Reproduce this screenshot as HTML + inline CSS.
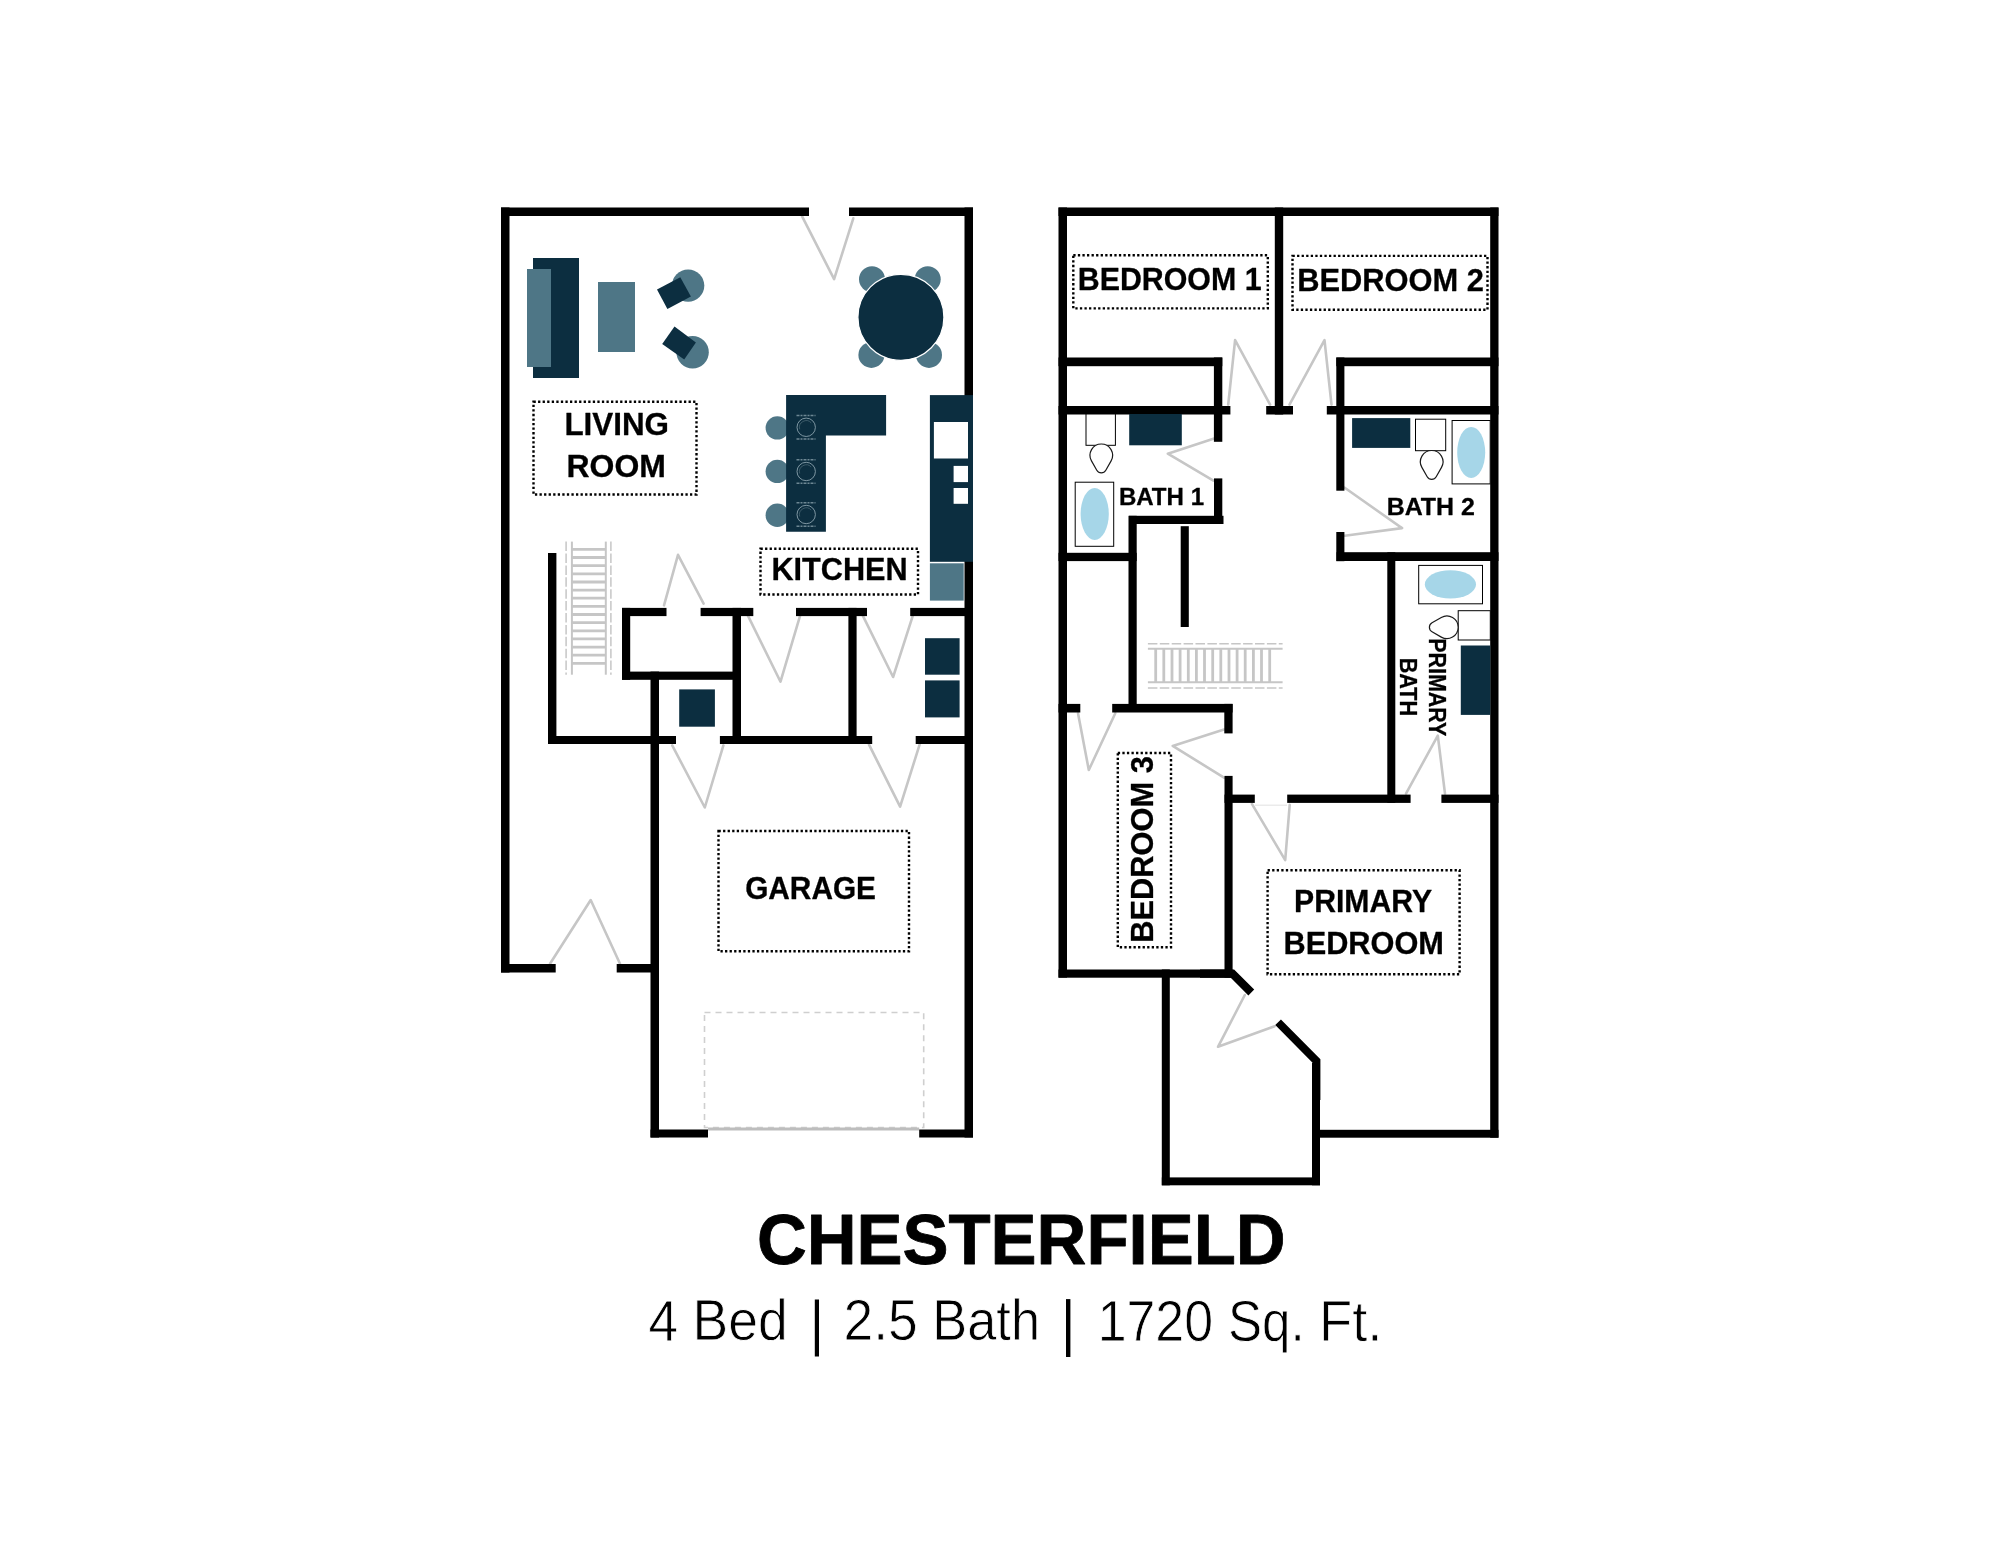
<!DOCTYPE html>
<html><head><meta charset="utf-8"><style>
html,body{margin:0;padding:0;background:#fff;width:2000px;height:1545px;overflow:hidden}
svg{display:block;will-change:transform}
text{fill:#000}
</style></head><body>
<svg width="2000" height="1545" viewBox="0 0 2000 1545">
<polyline points="802.1,216.4 834.1,279.2 853.3,218.3" fill="none" stroke="#c6c6c6" stroke-width="2.6" stroke-linejoin="round" stroke-linecap="round"/>
<polyline points="664.0,605.3 678.0,554.8 703.6,603.7" fill="none" stroke="#c6c6c6" stroke-width="2.6" stroke-linejoin="round" stroke-linecap="round"/>
<polyline points="747.9,615.6 780.5,681.7 799.9,616.4" fill="none" stroke="#c6c6c6" stroke-width="2.6" stroke-linejoin="round" stroke-linecap="round"/>
<polyline points="862.8,615.6 893.1,677.0 912.6,616.4" fill="none" stroke="#c6c6c6" stroke-width="2.6" stroke-linejoin="round" stroke-linecap="round"/>
<polyline points="672.2,745.4 704.8,807.5 723.4,745.4" fill="none" stroke="#c6c6c6" stroke-width="2.6" stroke-linejoin="round" stroke-linecap="round"/>
<polyline points="869.0,744.6 900.1,806.7 919.6,744.6" fill="none" stroke="#c6c6c6" stroke-width="2.6" stroke-linejoin="round" stroke-linecap="round"/>
<polyline points="550.0,963.7 590.7,900.0 620.0,963.7" fill="none" stroke="#c6c6c6" stroke-width="2.6" stroke-linejoin="round" stroke-linecap="round"/>
<line x1="566.1" y1="541.6" x2="566.1" y2="674.7" stroke="#c6c6c6" stroke-width="1.5" stroke-dasharray="9.5 2.4"/>
<line x1="610.9" y1="541.6" x2="610.9" y2="674.7" stroke="#c6c6c6" stroke-width="1.5" stroke-dasharray="9.5 2.4"/>
<line x1="571.9" y1="541.6" x2="571.9" y2="674.7" stroke="#c6c6c6" stroke-width="2"/>
<line x1="605.8" y1="541.6" x2="605.8" y2="674.7" stroke="#c6c6c6" stroke-width="2"/>
<line x1="571.9" y1="549.4" x2="605.8" y2="549.4" stroke="#c6c6c6" stroke-width="2.8"/>
<line x1="571.9" y1="557.5" x2="605.8" y2="557.5" stroke="#c6c6c6" stroke-width="2.8"/>
<line x1="571.9" y1="565.7" x2="605.8" y2="565.7" stroke="#c6c6c6" stroke-width="2.8"/>
<line x1="571.9" y1="573.8" x2="605.8" y2="573.8" stroke="#c6c6c6" stroke-width="2.8"/>
<line x1="571.9" y1="582.0" x2="605.8" y2="582.0" stroke="#c6c6c6" stroke-width="2.8"/>
<line x1="571.9" y1="590.1" x2="605.8" y2="590.1" stroke="#c6c6c6" stroke-width="2.8"/>
<line x1="571.9" y1="598.2" x2="605.8" y2="598.2" stroke="#c6c6c6" stroke-width="2.8"/>
<line x1="571.9" y1="606.4" x2="605.8" y2="606.4" stroke="#c6c6c6" stroke-width="2.8"/>
<line x1="571.9" y1="614.5" x2="605.8" y2="614.5" stroke="#c6c6c6" stroke-width="2.8"/>
<line x1="571.9" y1="622.7" x2="605.8" y2="622.7" stroke="#c6c6c6" stroke-width="2.8"/>
<line x1="571.9" y1="630.8" x2="605.8" y2="630.8" stroke="#c6c6c6" stroke-width="2.8"/>
<line x1="571.9" y1="638.9" x2="605.8" y2="638.9" stroke="#c6c6c6" stroke-width="2.8"/>
<line x1="571.9" y1="647.1" x2="605.8" y2="647.1" stroke="#c6c6c6" stroke-width="2.8"/>
<line x1="571.9" y1="655.2" x2="605.8" y2="655.2" stroke="#c6c6c6" stroke-width="2.8"/>
<line x1="571.9" y1="663.4" x2="605.8" y2="663.4" stroke="#c6c6c6" stroke-width="2.8"/>
<rect x="704.5" y="1012.5" width="219.2" height="115" fill="none" stroke="#cfcfcf" stroke-width="1.6" stroke-dasharray="6 5"/>
<rect x="708.0" y="1127.5" width="211.2" height="3.0" fill="#bdbdbd" />
<rect x="501.0" y="207.5" width="308.0" height="8.5" fill="#000" />
<rect x="849.0" y="207.5" width="124.0" height="8.5" fill="#000" />
<rect x="501.0" y="207.5" width="8.5" height="765.0" fill="#000" />
<rect x="964.5" y="207.5" width="8.5" height="930.0" fill="#000" />
<rect x="501.0" y="964.0" width="54.7" height="8.5" fill="#000" />
<rect x="616.7" y="964.0" width="42.3" height="8.5" fill="#000" />
<rect x="650.5" y="671.6" width="8.5" height="465.9" fill="#000" />
<rect x="650.5" y="1129.5" width="57.5" height="8.0" fill="#000" />
<rect x="919.2" y="1129.5" width="53.8" height="8.0" fill="#000" />
<rect x="548.0" y="553.0" width="8.4" height="191.0" fill="#000" />
<rect x="548.0" y="736.0" width="128.0" height="8.0" fill="#000" />
<rect x="719.9" y="736.0" width="152.3" height="8.0" fill="#000" />
<rect x="915.7" y="736.0" width="57.3" height="8.0" fill="#000" />
<rect x="622.0" y="607.9" width="44.5" height="8.2" fill="#000" />
<rect x="700.6" y="607.9" width="52.7" height="8.2" fill="#000" />
<rect x="796.0" y="607.9" width="71.0" height="8.2" fill="#000" />
<rect x="910.2" y="607.9" width="62.8" height="8.2" fill="#000" />
<rect x="622.0" y="607.9" width="8.2" height="71.9" fill="#000" />
<rect x="622.0" y="671.6" width="119.0" height="8.2" fill="#000" />
<rect x="732.5" y="607.9" width="8.5" height="136.1" fill="#000" />
<rect x="848.4" y="607.9" width="8.2" height="136.1" fill="#000" />
<rect x="533.0" y="258.0" width="46.0" height="120.0" fill="#0c2e40" />
<rect x="527.0" y="269.0" width="24.0" height="98.0" fill="#4e7686" />
<rect x="598.0" y="282.0" width="37.0" height="70.0" fill="#4e7686" />
<circle cx="688.1" cy="285.6" r="16.2" fill="#4e7686" />
<polygon points="657,289.5 680.3,277.2 690.9,296.6 667.4,309" fill="#0c2e40"/>
<circle cx="692.6" cy="352.3" r="16.2" fill="#4e7686" />
<polygon points="674.5,326.4 695.9,342.6 684.2,359.4 662.2,343.9" fill="#0c2e40"/>
<circle cx="872.0" cy="279.2" r="13.0" fill="#4e7686" />
<circle cx="927.7" cy="279.2" r="13.0" fill="#4e7686" />
<circle cx="871.4" cy="354.9" r="13.0" fill="#4e7686" />
<circle cx="929.0" cy="354.9" r="13.0" fill="#4e7686" />
<circle cx="900.9" cy="317.3" r="43.0" fill="#0c2e40" stroke="#fff" stroke-width="1.2"/>
<circle cx="777.3" cy="427.9" r="11.7" fill="#4e7686" />
<circle cx="777.3" cy="471.4" r="11.7" fill="#4e7686" />
<circle cx="777.3" cy="515.2" r="11.7" fill="#4e7686" />
<path d="M786.1,395.1 H886.1 V435.5 H825.9 V531.8 H786.1 Z" fill="#0c2e40"/>
<circle cx="806.2" cy="427.3" r="9.2" fill="none" stroke="#8aa2ad" stroke-width="0.9"/>
<path d="M799.7,429.3 A6.8,6.8 0 0 1 811.2,422.8" fill="none" stroke="#4f6c79" stroke-width="0.7"/>
<line x1="796.5" y1="415.5" x2="815.5" y2="415.5" stroke="#6d8793" stroke-width="1.5" stroke-dasharray="3 1 2 1"/>
<line x1="796.5" y1="439.1" x2="815.5" y2="439.1" stroke="#6d8793" stroke-width="1.5" stroke-dasharray="3 1 2 1"/>
<circle cx="806.2" cy="471.5" r="9.2" fill="none" stroke="#8aa2ad" stroke-width="0.9"/>
<path d="M799.7,473.5 A6.8,6.8 0 0 1 811.2,467.0" fill="none" stroke="#4f6c79" stroke-width="0.7"/>
<line x1="796.5" y1="459.7" x2="815.5" y2="459.7" stroke="#6d8793" stroke-width="1.5" stroke-dasharray="3 1 2 1"/>
<line x1="796.5" y1="483.3" x2="815.5" y2="483.3" stroke="#6d8793" stroke-width="1.5" stroke-dasharray="3 1 2 1"/>
<circle cx="806.2" cy="514.5" r="9.2" fill="none" stroke="#8aa2ad" stroke-width="0.9"/>
<path d="M799.7,516.5 A6.8,6.8 0 0 1 811.2,510.0" fill="none" stroke="#4f6c79" stroke-width="0.7"/>
<line x1="796.5" y1="502.7" x2="815.5" y2="502.7" stroke="#6d8793" stroke-width="1.5" stroke-dasharray="3 1 2 1"/>
<line x1="796.5" y1="526.3" x2="815.5" y2="526.3" stroke="#6d8793" stroke-width="1.5" stroke-dasharray="3 1 2 1"/>
<rect x="929.9" y="395.1" width="43.1" height="166.7" fill="#0c2e40" />
<rect x="933.9" y="422.0" width="34.1" height="36.5" fill="#fff" />
<rect x="953.6" y="465.9" width="14.4" height="16.2" fill="#fff" />
<rect x="953.6" y="488.0" width="14.4" height="15.8" fill="#fff" />
<rect x="929.9" y="563.3" width="33.8" height="37.3" fill="#4e7686" />
<rect x="679.2" y="689.4" width="35.7" height="37.3" fill="#0c2e40" />
<rect x="925.0" y="638.2" width="34.6" height="36.5" fill="#0c2e40" />
<rect x="925.0" y="680.4" width="34.6" height="37.0" fill="#0c2e40" />
<rect x="533.5" y="401.8" width="163.0" height="92.7" fill="none" stroke="#000" stroke-width="2.4" stroke-dasharray="2.3 2.26"/>
<rect x="760.5" y="548.8" width="157.5" height="45.7" fill="none" stroke="#000" stroke-width="2.4" stroke-dasharray="2.3 2.26"/>
<rect x="718.5" y="831.0" width="190.5" height="120.3" fill="none" stroke="#000" stroke-width="2.4" stroke-dasharray="2.3 2.26"/>
<polyline points="1228.2,404.6 1235.1,340.1 1270.1,404.6" fill="none" stroke="#c6c6c6" stroke-width="2.6" stroke-linejoin="round" stroke-linecap="round"/>
<polyline points="1289.5,404.6 1324.5,340.1 1331.5,404.6" fill="none" stroke="#c6c6c6" stroke-width="2.6" stroke-linejoin="round" stroke-linecap="round"/>
<polyline points="1213.4,438.7 1167.8,453.7 1213.4,480.7" fill="none" stroke="#c6c6c6" stroke-width="2.6" stroke-linejoin="round" stroke-linecap="round"/>
<polyline points="1344.7,487.7 1402.1,528.1 1344.7,535.8" fill="none" stroke="#c6c6c6" stroke-width="2.6" stroke-linejoin="round" stroke-linecap="round"/>
<polyline points="1078.0,713.2 1088.8,770.0 1115.3,713.2" fill="none" stroke="#c6c6c6" stroke-width="2.6" stroke-linejoin="round" stroke-linecap="round"/>
<polyline points="1224.0,729.6 1172.7,745.9 1224.0,777.7" fill="none" stroke="#c6c6c6" stroke-width="2.6" stroke-linejoin="round" stroke-linecap="round"/>
<polyline points="1406.0,793.7 1437.8,735.7 1445.0,793.7" fill="none" stroke="#c6c6c6" stroke-width="2.6" stroke-linejoin="round" stroke-linecap="round"/>
<polyline points="1251.9,803.8 1285.2,860.1 1289.7,804.8" fill="none" stroke="#c6c6c6" stroke-width="2.6" stroke-linejoin="round" stroke-linecap="round"/>
<polyline points="1244.8,995.0 1218.0,1046.8 1274.6,1026.3" fill="none" stroke="#c6c6c6" stroke-width="2.6" stroke-linejoin="round" stroke-linecap="round"/>
<line x1="1255" y1="805.2" x2="1287" y2="805.2" stroke="#e6e6e6" stroke-width="1.2"/>
<line x1="1147.9" y1="643.8" x2="1282.6" y2="643.8" stroke="#c6c6c6" stroke-width="1.5" stroke-dasharray="9.5 2.4"/>
<line x1="1147.9" y1="687.9" x2="1282.6" y2="687.9" stroke="#c6c6c6" stroke-width="1.5" stroke-dasharray="9.5 2.4"/>
<line x1="1147.9" y1="648.8" x2="1282.6" y2="648.8" stroke="#c6c6c6" stroke-width="2"/>
<line x1="1147.9" y1="682.2" x2="1282.6" y2="682.2" stroke="#c6c6c6" stroke-width="2"/>
<line x1="1155.7" y1="648.8" x2="1155.7" y2="682.2" stroke="#c6c6c6" stroke-width="2.8"/>
<line x1="1163.8" y1="648.8" x2="1163.8" y2="682.2" stroke="#c6c6c6" stroke-width="2.8"/>
<line x1="1172.0" y1="648.8" x2="1172.0" y2="682.2" stroke="#c6c6c6" stroke-width="2.8"/>
<line x1="1180.1" y1="648.8" x2="1180.1" y2="682.2" stroke="#c6c6c6" stroke-width="2.8"/>
<line x1="1188.3" y1="648.8" x2="1188.3" y2="682.2" stroke="#c6c6c6" stroke-width="2.8"/>
<line x1="1196.4" y1="648.8" x2="1196.4" y2="682.2" stroke="#c6c6c6" stroke-width="2.8"/>
<line x1="1204.5" y1="648.8" x2="1204.5" y2="682.2" stroke="#c6c6c6" stroke-width="2.8"/>
<line x1="1212.7" y1="648.8" x2="1212.7" y2="682.2" stroke="#c6c6c6" stroke-width="2.8"/>
<line x1="1220.8" y1="648.8" x2="1220.8" y2="682.2" stroke="#c6c6c6" stroke-width="2.8"/>
<line x1="1229.0" y1="648.8" x2="1229.0" y2="682.2" stroke="#c6c6c6" stroke-width="2.8"/>
<line x1="1237.1" y1="648.8" x2="1237.1" y2="682.2" stroke="#c6c6c6" stroke-width="2.8"/>
<line x1="1245.2" y1="648.8" x2="1245.2" y2="682.2" stroke="#c6c6c6" stroke-width="2.8"/>
<line x1="1253.4" y1="648.8" x2="1253.4" y2="682.2" stroke="#c6c6c6" stroke-width="2.8"/>
<line x1="1261.5" y1="648.8" x2="1261.5" y2="682.2" stroke="#c6c6c6" stroke-width="2.8"/>
<line x1="1269.7" y1="648.8" x2="1269.7" y2="682.2" stroke="#c6c6c6" stroke-width="2.8"/>
<rect x="1058.5" y="207.5" width="440.0" height="8.5" fill="#000" />
<rect x="1058.5" y="207.5" width="8.5" height="770.1" fill="#000" />
<rect x="1490.2" y="207.5" width="8.3" height="930.2" fill="#000" />
<rect x="1274.8" y="207.5" width="8.4" height="207.0" fill="#000" />
<rect x="1058.5" y="357.5" width="163.8" height="8.7" fill="#000" />
<rect x="1213.9" y="357.5" width="8.4" height="84.3" fill="#000" />
<rect x="1058.5" y="406.0" width="171.9" height="8.5" fill="#000" />
<rect x="1266.2" y="406.0" width="26.8" height="8.5" fill="#000" />
<rect x="1326.8" y="406.0" width="171.7" height="8.5" fill="#000" />
<rect x="1336.3" y="357.5" width="162.2" height="8.7" fill="#000" />
<rect x="1336.3" y="357.5" width="8.1" height="133.2" fill="#000" />
<rect x="1336.3" y="532.0" width="8.1" height="29.2" fill="#000" />
<rect x="1214.0" y="478.4" width="8.3" height="45.4" fill="#000" />
<rect x="1129.0" y="515.8" width="94.5" height="8.2" fill="#000" />
<rect x="1128.5" y="515.8" width="8.2" height="196.2" fill="#000" />
<rect x="1058.5" y="552.8" width="78.2" height="8.3" fill="#000" />
<rect x="1180.7" y="526.2" width="8.1" height="100.8" fill="#000" />
<rect x="1336.5" y="552.2" width="162.0" height="8.8" fill="#000" />
<rect x="1387.3" y="552.3" width="8.0" height="250.5" fill="#000" />
<rect x="1058.5" y="703.9" width="21.8" height="8.6" fill="#000" />
<rect x="1112.2" y="703.9" width="120.4" height="8.6" fill="#000" />
<rect x="1224.3" y="703.9" width="8.3" height="29.5" fill="#000" />
<rect x="1224.5" y="775.9" width="8.1" height="201.7" fill="#000" />
<rect x="1224.5" y="794.6" width="30.3" height="8.3" fill="#000" />
<rect x="1287.2" y="794.6" width="123.4" height="8.3" fill="#000" />
<rect x="1441.4" y="794.6" width="57.1" height="8.3" fill="#000" />
<rect x="1058.5" y="969.5" width="174.1" height="8.2" fill="#000" />
<rect x="1161.8" y="969.5" width="8.0" height="215.8" fill="#000" />
<rect x="1161.8" y="1177.4" width="158.2" height="7.9" fill="#000" />
<rect x="1312.0" y="1063.0" width="8.0" height="122.3" fill="#000" />
<rect x="1312.0" y="1129.8" width="186.5" height="7.9" fill="#000" />
<polyline points="1200,973.6 1232.4,973.6 1251.3,992.5" fill="none" stroke="#000" stroke-width="8.2" stroke-linejoin="miter"/>
<polyline points="1278.1,1022.2 1316.4,1061 1316.4,1100" fill="none" stroke="#000" stroke-width="8" stroke-linejoin="miter"/>
<rect x="1086.0" y="414.0" width="29.4" height="31.3" fill="#fff" stroke="#000" stroke-width="1"/>
<path d="M9.82,16.9 A11.3,11.3 0 1 0 -9.82,16.9 L-4.52,26.18 A5.2,5.2 0 0 0 4.52,26.18 Z" transform="translate(1101.3,444)" fill="#fff" stroke="#1a1a1a" stroke-width="1.2"/>
<rect x="1129.2" y="414.0" width="52.6" height="31.3" fill="#0c2e40" />
<rect x="1075.2" y="482.2" width="38.5" height="64.1" fill="#fff" stroke="#000" stroke-width="1"/>
<ellipse cx="1094.7" cy="513.9" rx="14.1" ry="26.0" fill="#a6d6e8" />
<rect x="1352.1" y="418.1" width="58.2" height="29.8" fill="#0c2e40" />
<rect x="1415.5" y="419.2" width="30.2" height="31.5" fill="#fff" stroke="#000" stroke-width="1"/>
<path d="M9.82,16.9 A11.3,11.3 0 1 0 -9.82,16.9 L-4.52,26.18 A5.2,5.2 0 0 0 4.52,26.18 Z" transform="translate(1431.7,450.5)" fill="#fff" stroke="#1a1a1a" stroke-width="1.2"/>
<rect x="1452.1" y="420.5" width="38.1" height="63.4" fill="#fff" stroke="#000" stroke-width="1"/>
<ellipse cx="1471.2" cy="452.4" rx="14.0" ry="25.5" fill="#a6d6e8" />
<rect x="1418.7" y="565.4" width="63.8" height="38.4" fill="#fff" stroke="#000" stroke-width="1"/>
<ellipse cx="1450.4" cy="584.4" rx="25.6" ry="14.2" fill="#a6d6e8" />
<rect x="1458.2" y="610.7" width="32.1" height="29.3" fill="#fff" stroke="#000" stroke-width="1"/>
<path d="M9.82,16.9 A11.3,11.3 0 1 0 -9.82,16.9 L-4.52,26.18 A5.2,5.2 0 0 0 4.52,26.18 Z" transform="translate(1458.2,627.3) rotate(90)" fill="#fff" stroke="#1a1a1a" stroke-width="1.2"/>
<rect x="1460.8" y="645.5" width="29.5" height="69.4" fill="#0c2e40" />
<rect x="1073.3" y="255.3" width="194.5" height="53.1" fill="none" stroke="#000" stroke-width="2.4" stroke-dasharray="2.3 2.26"/>
<rect x="1292.5" y="255.9" width="195.0" height="53.8" fill="none" stroke="#000" stroke-width="2.4" stroke-dasharray="2.3 2.26"/>
<rect x="1117.8" y="753.0" width="53.2" height="194.3" fill="none" stroke="#000" stroke-width="2.4" stroke-dasharray="2.3 2.26"/>
<rect x="1267.6" y="870.3" width="192.0" height="104.0" fill="none" stroke="#000" stroke-width="2.4" stroke-dasharray="2.3 2.26"/>
<text x="564.40" y="434.60" font-family="Liberation Sans" font-weight="bold" font-size="31.30" textLength="104.60" lengthAdjust="spacingAndGlyphs" stroke="#000" stroke-width="0.3" stroke-linejoin="round">LIVING</text>
<text x="566.50" y="476.60" font-family="Liberation Sans" font-weight="bold" font-size="31.30" textLength="99.41" lengthAdjust="spacingAndGlyphs" stroke="#000" stroke-width="0.3" stroke-linejoin="round">ROOM</text>
<text x="771.40" y="579.70" font-family="Liberation Sans" font-weight="bold" font-size="31.30" textLength="136.24" lengthAdjust="spacingAndGlyphs" stroke="#000" stroke-width="0.3" stroke-linejoin="round">KITCHEN</text>
<text x="745.20" y="899.00" font-family="Liberation Sans" font-weight="bold" font-size="31.30" textLength="130.75" lengthAdjust="spacingAndGlyphs" stroke="#000" stroke-width="0.3" stroke-linejoin="round">GARAGE</text>
<text x="1077.80" y="289.80" font-family="Liberation Sans" font-weight="bold" font-size="31.30" textLength="183.76" lengthAdjust="spacingAndGlyphs" stroke="#000" stroke-width="0.3" stroke-linejoin="round">BEDROOM 1</text>
<text x="1297.20" y="290.60" font-family="Liberation Sans" font-weight="bold" font-size="31.30" textLength="186.76" lengthAdjust="spacingAndGlyphs" stroke="#000" stroke-width="0.3" stroke-linejoin="round">BEDROOM 2</text>
<text x="1118.90" y="504.90" font-family="Liberation Sans" font-weight="bold" font-size="23.80" textLength="85.15" lengthAdjust="spacingAndGlyphs" stroke="#000" stroke-width="0.3" stroke-linejoin="round">BATH 1</text>
<text x="1386.70" y="514.60" font-family="Liberation Sans" font-weight="bold" font-size="23.80" textLength="88.18" lengthAdjust="spacingAndGlyphs" stroke="#000" stroke-width="0.3" stroke-linejoin="round">BATH 2</text>
<text x="0" y="0" font-family="Liberation Sans" font-weight="bold" font-size="31.30" textLength="186.48" lengthAdjust="spacingAndGlyphs" stroke="#000" stroke-width="0.3" stroke-linejoin="round" transform="translate(1152.90,942.70) rotate(-90)">BEDROOM 3</text>
<text x="0" y="0" font-family="Liberation Sans" font-weight="bold" font-size="23.80" textLength="97.85" lengthAdjust="spacingAndGlyphs" stroke="#000" stroke-width="0.3" stroke-linejoin="round" transform="translate(1428.70,638.30) rotate(90)">PRIMARY</text>
<text x="0" y="0" font-family="Liberation Sans" font-weight="bold" font-size="23.80" textLength="58.35" lengthAdjust="spacingAndGlyphs" stroke="#000" stroke-width="0.3" stroke-linejoin="round" transform="translate(1399.70,657.70) rotate(90)">BATH</text>
<text x="1294.10" y="911.60" font-family="Liberation Sans" font-weight="bold" font-size="31.30" textLength="137.95" lengthAdjust="spacingAndGlyphs" stroke="#000" stroke-width="0.3" stroke-linejoin="round">PRIMARY</text>
<text x="1283.50" y="953.80" font-family="Liberation Sans" font-weight="bold" font-size="31.30" textLength="160.41" lengthAdjust="spacingAndGlyphs" stroke="#000" stroke-width="0.3" stroke-linejoin="round">BEDROOM</text>
<text x="756.90" y="1263.80" font-family="Liberation Sans" font-weight="bold" font-size="71.23" textLength="528.75" lengthAdjust="spacingAndGlyphs" stroke="#000" stroke-width="0.8" stroke-linejoin="round">CHESTERFIELD</text>
<text x="648.50" y="1341.30" font-family="Liberation Sans" font-weight="normal" font-size="57.87" textLength="29.58" lengthAdjust="spacingAndGlyphs" stroke="#fff" stroke-width="0.8">4</text>
<text x="692.50" y="1340.30" font-family="Liberation Sans" font-weight="normal" font-size="57.87" textLength="95.19" lengthAdjust="spacingAndGlyphs" stroke="#fff" stroke-width="0.8">Bed</text>
<text x="843.60" y="1339.80" font-family="Liberation Sans" font-weight="normal" font-size="57.87" textLength="74.12" lengthAdjust="spacingAndGlyphs" stroke="#fff" stroke-width="0.8">2.5</text>
<text x="932.30" y="1339.80" font-family="Liberation Sans" font-weight="normal" font-size="57.87" textLength="107.76" lengthAdjust="spacingAndGlyphs" stroke="#fff" stroke-width="0.8">Bath</text>
<text x="1097.70" y="1341.00" font-family="Liberation Sans" font-weight="normal" font-size="57.87" textLength="115.37" lengthAdjust="spacingAndGlyphs" stroke="#fff" stroke-width="0.8">1720</text>
<text x="1228.00" y="1341.00" font-family="Liberation Sans" font-weight="normal" font-size="57.87" textLength="76.68" lengthAdjust="spacingAndGlyphs" stroke="#fff" stroke-width="0.8">Sq.</text>
<text x="1319.00" y="1341.00" font-family="Liberation Sans" font-weight="normal" font-size="57.87" textLength="63.34" lengthAdjust="spacingAndGlyphs" stroke="#fff" stroke-width="0.8">Ft.</text>
<rect x="814.8" y="1299.5" width="4.2" height="57" fill="#000"/>
<rect x="1066" y="1299.1" width="4.4" height="57.9" fill="#000"/>
</svg>
</body></html>
